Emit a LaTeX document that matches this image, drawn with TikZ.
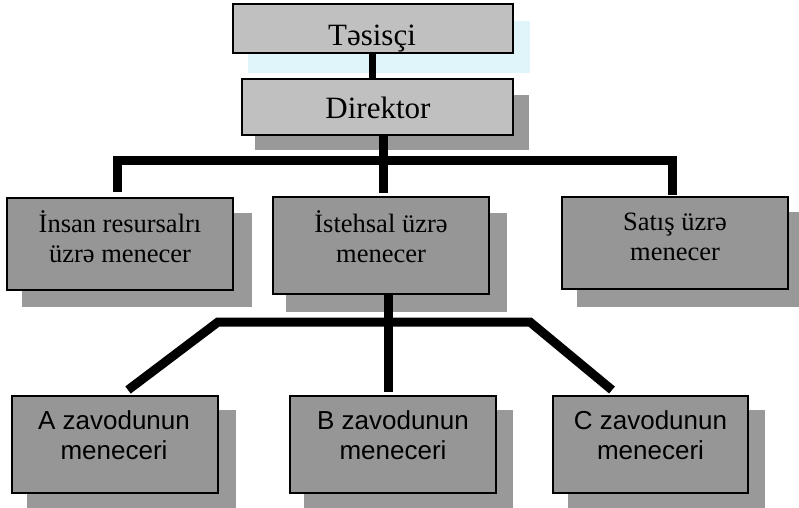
\documentclass[tikz,border=0pt]{standalone}
\usepackage{fontspec}
\setmainfont{Liberation Serif}
\newfontfamily\arialf{Liberation Sans}
\definecolor{boxlight}{HTML}{C0C0C0}
\definecolor{boxmid}{HTML}{969696}
\definecolor{shadowc}{HTML}{999999}
\definecolor{cyanbg}{HTML}{DFF5F9}
\tikzset{
  boxtop/.style={draw=black, line width=1.6pt, fill=boxlight, inner sep=0pt},
  boxmidst/.style={draw=black, line width=1.6pt, fill=boxmid, inner sep=0pt},
  shadowbox/.style={fill=shadowc},
  conn/.style={line width=9pt, line join=miter},
  connthin/.style={line width=7pt},
  ttop/.style={anchor=base, inner sep=0pt, font=\fontsize{31}{36}\selectfont},
  tmid/.style={anchor=base, inner sep=0pt, font=\fontsize{26.5}{30}\selectfont},
  tbot/.style={anchor=base, inner sep=0pt, font=\arialf\fontsize{26}{30}\selectfont},
}
\begin{document}
\begin{tikzpicture}[x=1pt,y=-1pt]
\useasboundingbox (0,0) rectangle (799,507);
\clip (0,0) rectangle (799,507);
% top area
\fill[cyanbg] (248,21) rectangle (530,73);
\fill[shadowbox] (255,95) rectangle (529,150);
\node[boxtop, minimum width=280pt, minimum height=49pt] (tes) at (373,28.5) {};
\node[boxtop, minimum width=271pt, minimum height=56pt] (dir) at (377.5,107) {};
\node[ttop] (tesT) at (372,45) {Təsisçi};
\node[ttop] (dirT) at (378,118) {Direktor};
\coordinate (tc) at (372,0);
\draw[connthin] (tes.south -| tc) -- (dir.north -| tc);
% middle shadows
\fill[shadowbox] (22,213) rectangle (252,307);
\fill[shadowbox] (286,213) rectangle (507,312);
\fill[shadowbox] (577,212) rectangle (799,307);
% middle boxes
\node[boxmidst, minimum width=226pt, minimum height=92pt] (ins) at (120,244) {};
\node[boxmidst, minimum width=216pt, minimum height=97pt] (ist) at (381,245.5) {};
\node[boxmidst, minimum width=226pt, minimum height=92pt] (sat) at (675,243) {};
\node[tmid] (insT1) at (120,232) {İnsan resursalrı};
\node[tmid] (insT2) at (120,262) {üzrə menecer};
\node[tmid] (istT1) at (381,232) {İstehsal üzrə};
\node[tmid] (istT2) at (381,262) {menecer};
\node[tmid] (satT1) at (675,230) {Satış üzrə};
\node[tmid] (satT2) at (675,260) {menecer};
% top tree connectors
\coordinate (b0) at (383,160);
\coordinate (l1) at (117,192);
\coordinate (r1) at (672,195);
\coordinate (m1) at (383,193);
\draw[conn] (dir.south -| b0) -- (m1);
\draw[conn] (l1) -- (l1 |- b0) -- (r1 |- b0) -- (r1);
% bottom shadows
\fill[shadowbox] (27,410) rectangle (236,520);
\fill[shadowbox] (304,410) rectangle (513,520);
\fill[shadowbox] (568,410) rectangle (765,520);
% bottom boxes
\node[boxmidst, minimum width=206pt, minimum height=97pt] (pa) at (115,444.5) {};
\node[boxmidst, minimum width=206pt, minimum height=97pt] (pb) at (393,444.5) {};
\node[boxmidst, minimum width=195pt, minimum height=97pt] (pc) at (650.5,444.5) {};
\node[tbot] (paT1) at (114,429) {A zavodunun};
\node[tbot] (paT2) at (114,459) {meneceri};
\node[tbot] (pbT1) at (393,429) {B zavodunun};
\node[tbot] (pbT2) at (393,459) {meneceri};
\node[tbot] (pcT1) at (650.5,429) {C zavodunun};
\node[tbot] (pcT2) at (650.5,459) {meneceri};
% lower tree connectors
\coordinate (v0) at (388,392);
\coordinate (h1) at (218,322);
\coordinate (h2) at (530,322);
\coordinate (da) at (128,390);
\coordinate (dc) at (612,390);
\draw[conn] (ist.south -| v0) -- (v0);
\draw[conn] (da) -- (h1) -- (h2) -- (dc);
\end{tikzpicture}
\end{document}
